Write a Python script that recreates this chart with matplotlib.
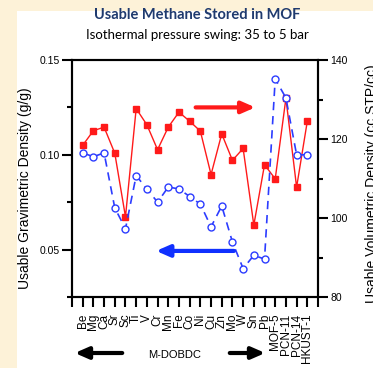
import matplotlib.pyplot as plt
from matplotlib.patches import Rectangle

# Data
frameworks = ["Be", "Mg", "Ca", "Sr", "Sc", "Ti", "V", "Cr", "Mn", "Fe", "Co",
              "Ni", "Cu", "Zn", "Mo", "W", "Sn", "Pb", "MOF-5", "PCN-11",
              "PCN-14", "HKUST-1"]
gravimetric = [0.101, 0.099, 0.101, 0.072, 0.061, 0.089, 0.082, 0.075, 0.083,
               0.082, 0.078, 0.074, 0.062, 0.073, 0.054, 0.040, 0.047, 0.045,
               0.140, 0.130, 0.100, 0.100]
volumetric = [118.4, 122.1, 123.0, 116.4, 100.3, 127.7, 123.6, 117.3, 123.0,
              126.8, 124.5, 122.0, 111.0, 121.3, 114.6, 117.6, 98.2, 113.5,
              109.9, 130.3, 107.8, 124.5]

plt.rcParams['font.family'] = ['Liberation Sans', 'DejaVu Sans']

W, H = 373, 368
fig = plt.figure(figsize=(W / 100, H / 100), dpi=100)
fig.patch.set_facecolor("#fdf2d8")
fig.patches.append(Rectangle((17 / W, 0), 1, 1 - 11 / H, transform=fig.transFigure,
                             facecolor="white", edgecolor="none", zorder=-10))

ax = fig.add_axes([72 / W, 1 - 297 / H, (318 - 72) / W, (297 - 60) / H])
ax2 = ax.twinx()
ax.set_zorder(ax2.get_zorder() + 1)
ax.patch.set_visible(False)

x = list(range(len(frameworks)))
blue = "#2c3cff"
red = "#ff1a1a"

ax.plot(x, gravimetric, color=blue, lw=1.2, ls=(0, (5, 3.5)), marker="o",
        ms=5, mfc="white", mec=blue, mew=1.0)
ax2.plot(x, volumetric, color=red, lw=1.0, marker="s", ms=4.5, mfc=red, mec=red)

ax.set_xlim(-1, 22)
ax.set_ylim(0.025, 0.15)
ax2.set_ylim(80, 140)

ax.set_xticks(range(-1, 23))
ax.set_xticklabels([""] + frameworks + [""], rotation=90, va="top")
ax.set_yticks([0.05, 0.10, 0.15])
ax.set_yticklabels(["0.05", "0.10", "0.15"])
ax.set_yticks([0.025, 0.075, 0.125], minor=True)
ax2.set_yticks([80, 100, 120, 140])
ax2.set_yticks([90, 110, 130], minor=True)

for a in (ax, ax2):
    for s in a.spines.values():
        s.set_linewidth(1.5)
    a.tick_params(which="major", direction="out", length=7, width=1.5,
                  labelsize=7.5, pad=2)
    a.tick_params(which="minor", direction="out", length=3.5, width=1.5)
ax.tick_params(axis="x", labelsize=8.5, pad=5)

# arrows inside the plot
ax2.annotate("", xy=(16.4, 128), xytext=(10.3, 128),
             arrowprops=dict(arrowstyle="-|>,head_length=0.8,head_width=0.35",
                             color=red, lw=3))
ax.annotate("", xy=(6.6, 0.0493), xytext=(14.4, 0.0493),
            arrowprops=dict(arrowstyle="-|>,head_length=0.8,head_width=0.35",
                            color="#1030ff", lw=3))

# labels and titles
fig.text(197 / W, 1 - 15 / H, "Usable Methane Stored in MOF", ha="center",
         va="center", fontsize=10.5, fontweight="bold", color="#1f3a6e",
         family="Lato")
fig.text(197 / W, 1 - 35 / H, "Isothermal pressure swing: 35 to 5 bar",
         ha="center", va="center", fontsize=9.5, family="Lato")
fig.text(25 / W, 1 - 188 / H, "Usable Gravimetric Density (g/g)", rotation=90,
         ha="center", va="center", fontsize=10)
fig.text(372 / W, 1 - 184 / H, "Usable Volumetric Density (cc STP/cc)",
         rotation=90, ha="center", va="center", fontsize=10)

# bottom annotation
fig.text(175 / W, 1 - 355 / H, "M-DOBDC", ha="center", va="center", fontsize=8)
ax.annotate("", xy=(72 / W, 1 - 353 / H), xytext=(125 / W, 1 - 353 / H),
            xycoords="figure fraction", textcoords="figure fraction",
            arrowprops=dict(arrowstyle="-|>,head_length=0.8,head_width=0.35",
                            color="black", lw=3), annotation_clip=False)
ax.annotate("", xy=(268 / W, 1 - 353 / H), xytext=(227 / W, 1 - 353 / H),
            xycoords="figure fraction", textcoords="figure fraction",
            arrowprops=dict(arrowstyle="-|>,head_length=0.8,head_width=0.35",
                            color="black", lw=3), annotation_clip=False)

fig.savefig("out.png", dpi=100, facecolor=fig.get_facecolor())
